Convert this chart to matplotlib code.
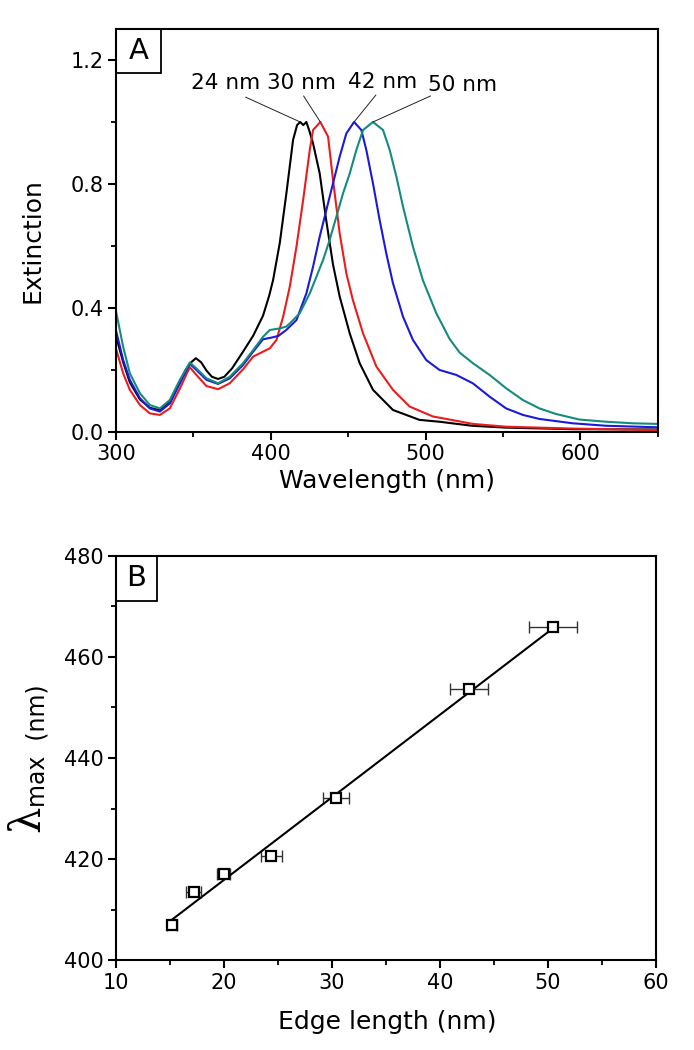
import numpy as np
import matplotlib
matplotlib.use('Agg')
import matplotlib.pyplot as plt
from matplotlib.ticker import MultipleLocator
from matplotlib.patches import Rectangle

plt.rcParams['font.family'] = ['DejaVu Sans']

# ---------------- Panel A: extinction spectra ----------------
wl_24 = [300, 304.7, 309, 315.5, 321.9, 328.4, 334.8, 341.3, 345, 348, 351.6, 355, 358.5, 362, 366,
         370, 375, 382.1, 388.6, 395, 399, 401.5, 405.8, 410.1, 414.4, 417, 419, 421, 423, 425,
         427.3, 431.6, 435.9, 440.2, 444.5, 451, 457.4, 466, 478.9, 496, 509, 530, 552, 595, 650]
ext_24 = [0.31, 0.225, 0.16, 0.105, 0.078, 0.07, 0.095, 0.16, 0.2, 0.222, 0.238, 0.225, 0.198, 0.178, 0.171,
          0.178, 0.205, 0.259, 0.31, 0.375, 0.44, 0.49, 0.609, 0.77, 0.942, 0.99, 1.0, 0.99, 1.0, 0.97,
          0.931, 0.834, 0.68, 0.54, 0.437, 0.318, 0.222, 0.136, 0.071, 0.039, 0.033, 0.02, 0.014, 0.009, 0.008]

wl_30 = [300, 304.7, 309, 315.5, 321.9, 328.4, 334.8, 341.3, 347.7, 352, 358.5, 366, 373.5, 382.1, 388.6,
         395, 399.4, 403.7, 408, 412.3, 416.6, 420.9, 425.2, 427.3, 432, 437, 440.2, 444.5, 448.8, 453,
         459.6, 468.2, 478.9, 489.7, 504.7, 522, 530.5, 552, 595, 650]
ext_30 = [0.27, 0.189, 0.136, 0.087, 0.06, 0.055, 0.076, 0.14, 0.209, 0.184, 0.148, 0.138, 0.157, 0.202, 0.243,
          0.259, 0.27, 0.297, 0.372, 0.469, 0.598, 0.748, 0.91, 0.974, 1.0, 0.953, 0.813, 0.641, 0.512, 0.426,
          0.318, 0.211, 0.136, 0.082, 0.05, 0.034, 0.026, 0.017, 0.011, 0.006]

wl_42 = [300, 304.7, 309, 315.5, 321.9, 328.4, 334.8, 341.3, 347.7, 352, 358.5, 366, 373.5, 382.1, 388.6,
         395, 401, 405, 410, 416.6, 423, 427.3, 431.6, 435.9, 440.2, 444.5, 448.8, 453.8, 458.5, 461.7,
         466, 470.3, 474.6, 478.9, 485.4, 491.8, 500.4, 509, 519.8, 530.5, 541.3, 552, 562.8, 573.5, 595,
         616.6, 650]
ext_42 = [0.329, 0.232, 0.168, 0.109, 0.076, 0.066, 0.092, 0.157, 0.22, 0.2, 0.168, 0.155, 0.173, 0.216, 0.259,
          0.299, 0.305, 0.31, 0.329, 0.361, 0.447, 0.533, 0.63, 0.716, 0.802, 0.888, 0.963, 1.0, 0.974, 0.91,
          0.802, 0.684, 0.576, 0.48, 0.372, 0.297, 0.232, 0.2, 0.184, 0.157, 0.114, 0.076, 0.055, 0.042, 0.028,
          0.02, 0.015]

wl_50 = [300, 304.7, 309, 315.5, 321.9, 328.4, 334.8, 341.3, 347.7, 352, 358.5, 366, 373.5, 382.1, 388.6,
         395, 399.4, 405.8, 410, 412.3, 418.7, 425.2, 429.5, 433.8, 438, 442.4, 446.7, 451, 455.3, 459.6,
         466, 472.5, 476.8, 481.1, 485.4, 491.8, 498.2, 506.9, 515.5, 522, 530.5, 541.3, 552, 562.8, 573.5,
         584.2, 599.4, 616.6, 633.8, 650]
ext_50 = [0.391, 0.275, 0.189, 0.125, 0.087, 0.076, 0.103, 0.168, 0.224, 0.205, 0.173, 0.157, 0.178, 0.222, 0.264,
          0.307, 0.329, 0.334, 0.34, 0.35, 0.383, 0.447, 0.501, 0.555, 0.619, 0.695, 0.77, 0.834, 0.91, 0.974,
          1.0, 0.974, 0.91, 0.824, 0.727, 0.598, 0.49, 0.383, 0.3, 0.256, 0.222, 0.184, 0.141, 0.103, 0.076,
          0.058, 0.04, 0.033, 0.028, 0.026]

spectra_labels = ['24 nm', '30 nm', '42 nm', '50 nm']
spectra_colors = ['#000000', '#ec1c1c', '#1a1ad8', '#158a7e']
label_x = [371, 420, 472, 524]
label_y = [1.125, 1.125, 1.128, 1.12]
leader_x = [383.8, 421.2, 467.9, 503.2]
leader_y = [1.08, 1.084, 1.087, 1.084]

# ---------------- Panel B: lambda max vs edge length ----------------
edge_len = [15.2, 17.2, 20.0, 24.4, 30.4, 42.7, 50.5]
edge_err = [0.5, 0.7, 0.6, 0.95, 1.2, 1.75, 2.2]
lam_max = [407.0, 413.4, 417.1, 420.6, 432.1, 453.6, 465.9]

fig = plt.figure(figsize=(6.94, 10.5), dpi=100)
axA = fig.add_axes([0.167, 0.5886, 0.781, 0.3838])
axB = fig.add_axes([0.167, 0.0857, 0.778, 0.3848])

series = [(wl_24, ext_24), (wl_30, ext_30), (wl_42, ext_42), (wl_50, ext_50)]
for (w, e), c in zip(series, spectra_colors):
    axA.plot(w, e, color=c, lw=1.5)

for i, ((w, e), lab) in enumerate(zip(series, spectra_labels)):
    k = int(np.argmax(e))
    axA.annotate('', xy=(w[k], e[k]), xytext=(leader_x[i], leader_y[i]),
                 arrowprops=dict(arrowstyle='-', lw=0.7, color='#222222', shrinkA=0, shrinkB=0))
    axA.text(label_x[i], label_y[i], lab, ha='center', va='center', fontsize=15.5)

axA.set_xlim(300, 650)
axA.set_ylim(0, 1.3)
axA.set_xticks([300, 400, 500, 600])
axA.set_yticks([0.0, 0.4, 0.8, 1.2])
axA.set_yticklabels(['0.0', '0.4', '0.8', '1.2'])
axA.xaxis.set_minor_locator(MultipleLocator(50))
axA.yaxis.set_minor_locator(MultipleLocator(0.2))

axB.errorbar(edge_len, lam_max, xerr=edge_err, fmt='none', ecolor='#333333',
             elinewidth=1.0, capsize=4, capthick=1.0, zorder=2)
coef = np.polyfit(edge_len, lam_max, 1)
xf = np.array([min(edge_len), max(edge_len)])
axB.plot(xf, np.polyval(coef, xf), color='black', lw=1.5, zorder=3)
axB.plot(edge_len, lam_max, linestyle='none', marker='s', markersize=7.5,
         markerfacecolor='white', markeredgecolor='black', markeredgewidth=1.6, zorder=4)

axB.set_xlim(10, 60)
axB.set_ylim(400, 480)
axB.set_xticks([10, 20, 30, 40, 50, 60])
axB.set_yticks([400, 420, 440, 460, 480])
axB.xaxis.set_minor_locator(MultipleLocator(5))
axB.yaxis.set_minor_locator(MultipleLocator(10))

for ax in (axA, axB):
    for s in ax.spines.values():
        s.set_linewidth(1.5)
    ax.tick_params(which='major', direction='out', length=6, width=1.5, labelsize=15, pad=3,
                   top=False, right=False)
    ax.tick_params(which='minor', direction='out', length=3.5, width=1.3, top=False, right=False)

# axis labels
axA.text(0.5, -0.1216, 'Wavelength (nm)', transform=axA.transAxes, ha='center', va='center', fontsize=18)
axA.text(-0.153, 0.476, 'Extinction', transform=axA.transAxes, ha='center', va='center',
         rotation=90, fontsize=18)
axB.text(0.502, -0.153, 'Edge length (nm)', transform=axB.transAxes, ha='center', va='center', fontsize=18)
axB.text(-0.146, 0.379, 'max  (nm)', transform=axB.transAxes, ha='center', va='bottom',
         rotation=90, fontsize=17)
axB.text(-0.165, 0.383, '\u03bb', transform=axB.transAxes, ha='center', va='top',
         rotation=90, fontsize=30, family='DejaVu Serif')

# panel letters in boxes
axA.add_patch(Rectangle((0, 1 - 0.109), 0.083, 0.109, transform=axA.transAxes, fill=False,
                        lw=1.3, edgecolor='black', clip_on=False))
axA.text(0.0415, 1 - 0.0545, 'A', transform=axA.transAxes, ha='center', va='center', fontsize=21)
axB.add_patch(Rectangle((0, 1 - 0.111), 0.076, 0.111, transform=axB.transAxes, fill=False,
                        lw=1.3, edgecolor='black', clip_on=False))
axB.text(0.038, 1 - 0.0555, 'B', transform=axB.transAxes, ha='center', va='center', fontsize=21)

fig.savefig('out.png', dpi=100, facecolor='white')
